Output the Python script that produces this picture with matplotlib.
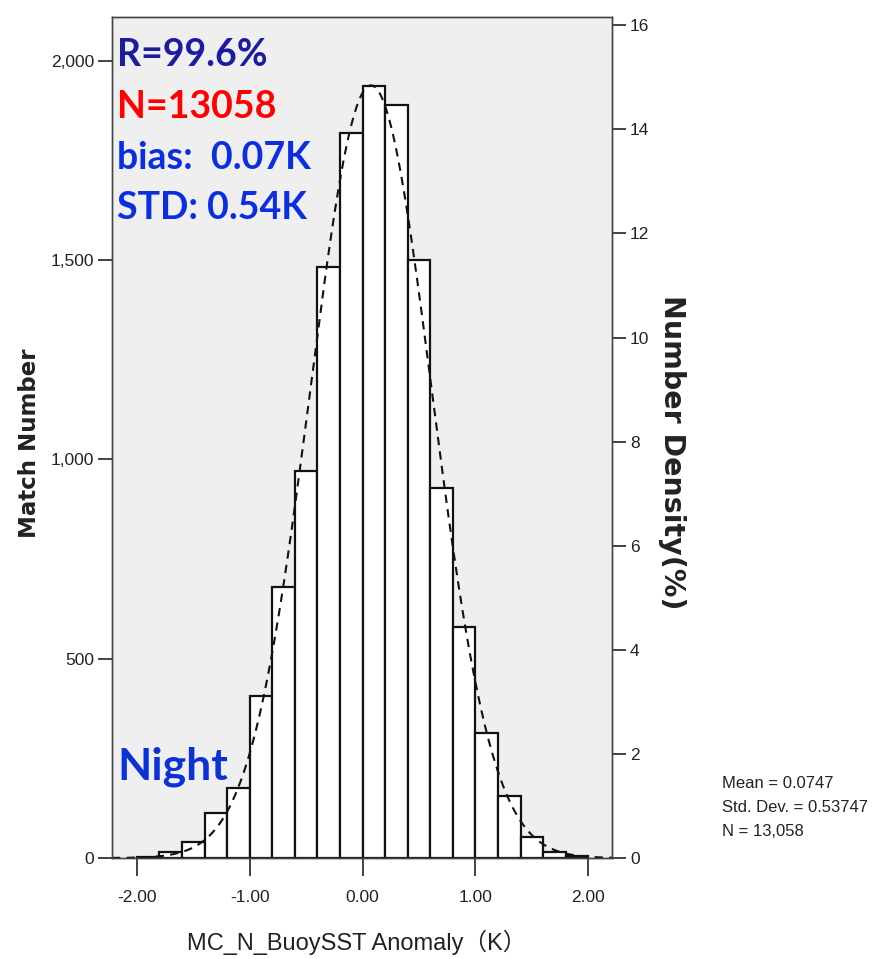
import numpy as np
import matplotlib.pyplot as plt
from matplotlib.ticker import FuncFormatter

# histogram of MC_N_BuoySST anomaly (night)
bin_edges = [-2.0, -1.8, -1.6, -1.4, -1.2, -1.0, -0.8, -0.6, -0.4, -0.2, 0.0,
             0.2, 0.4, 0.6, 0.8, 1.0, 1.2, 1.4, 1.6, 1.8, 2.0]
counts = [3, 16, 39, 114, 175, 407, 680, 971, 1482, 1818,
          1938, 1890, 1501, 929, 579, 314, 155, 52, 16, 5]

mean = 0.0747
std_dev = 0.53747
n_total = 13058

x_ticks = [-2, -1, 0, 1, 2]
left_ticks = [0, 500, 1000, 1500, 2000]
right_ticks = [0, 2, 4, 6, 8, 10, 12, 14, 16]

narrow = ['Liberation Sans', 'DejaVu Sans']
cjk = ['Liberation Sans', 'Noto Sans CJK SC', 'DejaVu Sans']

W, H = 873, 959
fig = plt.figure(figsize=(W / 100, H / 100), dpi=100)
ax = fig.add_axes([112 / W, 1 - 858 / H, 500 / W, 841 / H])
ax.set_facecolor('#efefef')

widths = np.diff(bin_edges)
ax.bar(bin_edges[:-1], counts, width=widths, align='edge',
       color='white', edgecolor='#111111', linewidth=1.6, zorder=2)

# fitted normal curve (SPSS style) from mean / std dev
xs = np.linspace(-2.22, 2.22, 400)
bw = widths[0]
ys = n_total * bw / (std_dev * np.sqrt(2 * np.pi)) * np.exp(-0.5 * ((xs - mean) / std_dev) ** 2)
ax.plot(xs, ys, color='#111111', lw=1.5, dashes=(4, 3), zorder=3)

ymax = 2110
ax.set_xlim(-2.22, 2.21)
ax.set_ylim(0, ymax)
ax.set_xticks(x_ticks)
ax.xaxis.set_major_formatter(FuncFormatter(lambda v, p: '%.2f' % v))
ax.set_yticks(left_ticks)
ax.yaxis.set_major_formatter(FuncFormatter(lambda v, p: '{:,.0f}'.format(v)))
ax.tick_params(axis='x', direction='out', length=13, width=1.2, pad=10,
               labelsize=12.5, colors='#222222')
ax.tick_params(axis='y', direction='out', length=10, width=1.2, pad=3,
               labelsize=12.5, colors='#222222')
for lab in ax.get_xticklabels() + ax.get_yticklabels():
    lab.set_family(narrow)
for s in ax.spines.values():
    s.set_color('#444444')
    s.set_linewidth(1.0)

ax2 = ax.twinx()
ax2.set_ylim(0, ymax / n_total * 100)
ax2.set_yticks(right_ticks)
ax2.tick_params(axis='y', direction='out', length=10, width=1.2, pad=3,
                labelsize=12.5, colors='#222222')
for lab in ax2.get_yticklabels():
    lab.set_family(narrow)
for s in ax2.spines.values():
    s.set_color('#444444')
    s.set_linewidth(1.0)

# axis titles
fig.text(30 / W, 1 - 443 / H, 'Match Number', rotation=90, ha='center', va='center',
         fontsize=16.5, fontweight='bold', family='DejaVu Sans', color='#222222')
fig.text(672 / W, 1 - 452 / H, 'Number Density(%)', rotation=-90, ha='center', va='center',
         fontsize=20.5, fontweight='bold', family='DejaVu Sans', color='#222222')
fig.text(357 / W, 1 - 942 / H, 'MC_N_BuoySST Anomaly（K）', ha='center', va='center',
         fontsize=17, family=cjk, color='#222222')

# annotations
ann = ['Lato', 'DejaVu Sans']
fig.text(117 / W, 1 - 55 / H, 'R=99.6%', ha='left', va='center', fontsize=27,
         fontweight='bold', family=ann, color='#1c1ca0')
fig.text(117 / W, 1 - 107 / H, 'N=13058', ha='left', va='center', fontsize=27,
         fontweight='bold', family=ann, color='#ff0000')
fig.text(117 / W, 1 - 158 / H, 'bias:  0.07K', ha='left', va='center', fontsize=27,
         fontweight='bold', family=ann, color='#0a2ee0')
fig.text(117 / W, 1 - 208 / H, 'STD: 0.54K', ha='left', va='center', fontsize=27,
         fontweight='bold', family=ann, color='#0a2ee0')
fig.text(117 / W, 1 - 767 / H, 'Night', ha='left', va='center', fontsize=32,
         fontweight='bold', family=ann, color='#0b32d8')

# stats box
stats = ['Mean = 0.0747', 'Std. Dev. = 0.53747', 'N = 13,058']
for i, s in enumerate(stats):
    fig.text(722 / W, 1 - (783 + 24 * i) / H, s, ha='left', va='center',
             fontsize=12, family=narrow, color='#222222')

fig.savefig('out.png', dpi=100)
